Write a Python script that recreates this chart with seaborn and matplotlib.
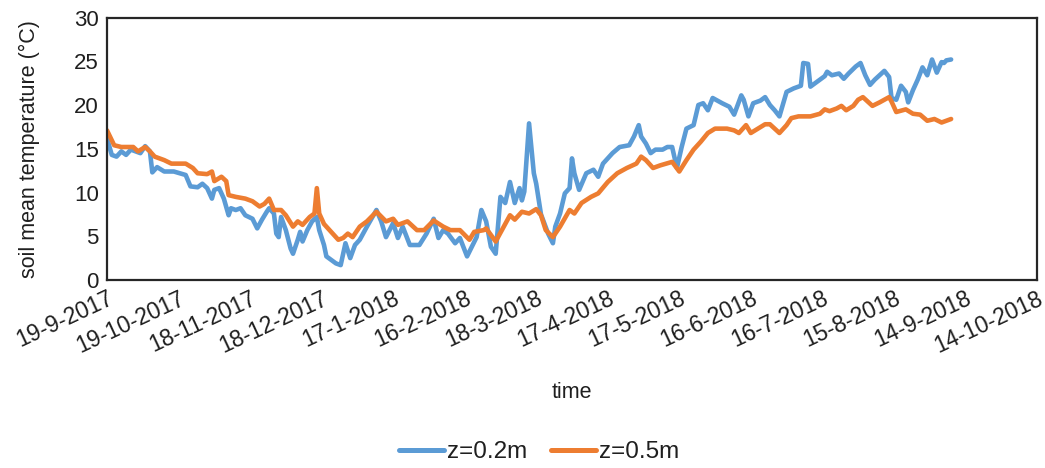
import matplotlib
matplotlib.use("Agg")
import matplotlib.pyplot as plt
import pandas as pd
import seaborn as sns

# Daily soil temperature readings, day offsets counted from the first day of logging
start_date = pd.Timestamp("2017-09-19")

days_02 = [0, 2, 4, 6, 8, 10, 12, 14, 16, 18, 19, 21, 24, 28, 33, 35, 38, 40, 42, 44,
           45, 47, 49, 51, 52, 54, 56, 58, 61, 63, 65, 67, 68, 70, 71, 72, 73, 75, 77, 78,
           80, 81, 82, 84, 86, 88, 89, 91, 92, 94, 96, 98, 100, 102, 104, 106, 109, 113, 115, 117,
           120, 122, 124, 127, 131, 134, 137, 139, 141, 143, 146, 148, 151, 153, 155, 157, 159, 161, 163, 165,
           167, 169, 171, 173, 174, 175, 177, 179, 180, 182, 185, 187, 188, 190, 192, 194, 195, 196, 198, 201,
           204, 206, 208, 210, 212, 215, 219, 221, 223, 224, 226, 228, 230, 233, 235, 237, 239, 241, 243, 246,
           248, 250, 252, 254, 258, 261, 263, 266, 267, 269, 271, 274, 276, 278, 280, 282, 285, 288, 291, 292,
           294, 295, 298, 301, 302, 304, 307, 309, 311, 314, 316, 318, 320, 322, 324, 326, 328, 329, 331, 333,
           335, 336, 338, 340, 342, 344, 346, 348, 350, 351, 352, 354]
temp_02 = [16.2, 14.3, 14.1, 14.7, 14.3, 14.9, 14.7, 14.5, 15.3, 14.7, 12.3, 12.9, 12.4, 12.4, 12.0, 10.7, 10.6, 11.0, 10.5, 9.3,
           10.3, 10.5, 9.3, 7.4, 8.2, 8.0, 8.2, 7.4, 7.0, 5.9, 6.9, 7.8, 8.2, 7.6, 5.3, 4.9, 7.2, 5.7, 3.6, 3.0,
           4.6, 5.5, 4.4, 5.7, 6.7, 7.2, 5.7, 4.0, 2.7, 2.3, 1.9, 1.7, 4.2, 2.5, 4.0, 4.6, 6.1, 8.0, 6.7, 4.9,
           6.5, 4.8, 6.1, 4.0, 4.0, 5.3, 7.0, 4.8, 5.7, 5.3, 4.2, 4.8, 2.7, 3.8, 4.9, 8.0, 6.7, 3.8, 3.0, 9.5,
           8.8, 11.2, 8.8, 10.5, 9.1, 10.1, 17.9, 12.2, 11.0, 7.5, 5.3, 4.2, 6.1, 7.6, 9.9, 10.5, 13.9, 12.2, 10.3, 12.2,
           12.6, 11.8, 13.3, 13.9, 14.5, 15.2, 15.4, 16.4, 17.7, 16.4, 15.6, 14.5, 14.9, 14.9, 15.2, 15.2, 12.8, 15.2, 17.3, 17.7,
           20.0, 20.2, 19.4, 20.8, 20.2, 19.8, 18.9, 21.1, 20.6, 18.7, 20.2, 20.5, 20.9, 20.0, 19.4, 18.7, 21.5, 21.9, 22.2, 24.8,
           24.7, 22.1, 22.7, 23.3, 23.8, 23.4, 23.6, 23.0, 23.6, 24.4, 24.8, 23.4, 22.3, 22.9, 23.4, 23.9, 23.2, 20.8, 20.6, 22.2,
           21.5, 20.3, 21.7, 22.9, 24.3, 23.4, 25.2, 23.7, 24.9, 24.8, 25.1, 25.2]

days_05 = [0, 3, 6, 9, 11, 13, 16, 18, 20, 24, 27, 33, 36, 38, 42, 44, 45, 48, 50, 51,
           54, 58, 61, 64, 66, 68, 70, 73, 75, 78, 80, 82, 85, 87, 88, 89, 91, 94, 97, 99,
           101, 103, 106, 109, 113, 117, 120, 122, 126, 130, 133, 137, 141, 144, 148, 152, 154, 158, 159, 163,
           166, 169, 171, 174, 177, 180, 182, 184, 187, 190, 194, 196, 199, 203, 206, 210, 214, 218, 222, 224,
           226, 229, 232, 237, 240, 243, 246, 249, 252, 255, 260, 263, 265, 268, 270, 273, 276, 278, 280, 282,
           285, 287, 290, 295, 299, 301, 303, 306, 308, 310, 313, 315, 317, 321, 324, 328, 329, 331, 335, 338,
           341, 344, 347, 350, 354]
temp_05 = [17.1, 15.4, 15.2, 15.2, 15.2, 14.7, 15.2, 14.7, 14.1, 13.7, 13.3, 13.3, 12.8, 12.2, 12.1, 12.4, 11.3, 11.8, 11.3, 9.7,
           9.5, 9.3, 9.0, 8.4, 8.7, 9.3, 8.0, 8.0, 7.4, 6.1, 6.7, 6.3, 7.2, 7.6, 10.5, 7.6, 6.4, 5.5, 4.6, 4.8,
           5.3, 4.9, 6.1, 6.7, 7.8, 6.7, 7.0, 6.3, 6.7, 5.7, 5.7, 6.8, 6.1, 5.7, 5.7, 4.6, 5.5, 5.7, 5.9, 4.4,
           5.9, 7.4, 6.9, 7.8, 7.6, 8.1, 7.4, 5.7, 4.9, 6.1, 8.0, 7.6, 8.8, 9.5, 9.9, 11.2, 12.2, 12.8, 13.3, 14.1,
           13.7, 12.8, 13.1, 13.5, 12.4, 13.7, 14.9, 15.8, 16.8, 17.3, 17.3, 17.1, 16.8, 17.7, 16.8, 17.3, 17.8, 17.8, 17.3, 16.8,
           17.7, 18.5, 18.7, 18.7, 19.0, 19.5, 19.3, 19.6, 19.9, 19.4, 19.9, 20.6, 20.9, 19.9, 20.3, 20.9, 20.4, 19.2, 19.5, 19.0,
           18.9, 18.2, 18.4, 18.0, 18.4]

depth_labels = ["z=0.2m", "z=0.5m"]
depth_colors = {"z=0.2m": "#5B9BD5", "z=0.5m": "#ED7D31"}

y_ticks = [0, 5, 10, 15, 20, 25, 30]
tick_dates = pd.date_range(start_date, periods=14, freq="30D")
tick_labels = [f"{d.day}-{d.month}-{d.year}" for d in tick_dates]

frames = []
for label, days, temps in [(depth_labels[0], days_02, temp_02), (depth_labels[1], days_05, temp_05)]:
    frames.append(pd.DataFrame({
        "date": start_date + pd.to_timedelta(days, unit="D"),
        "temperature": temps,
        "depth": label,
    }))
df = pd.concat(frames, ignore_index=True)

sns.set_theme(style="white")
plt.rcParams["font.family"] = ["Liberation Sans", "DejaVu Sans"]
text_color = "#1f1f1f"

fig = plt.figure(figsize=(10.45, 4.68), dpi=100)
ax = fig.add_axes([0.1024, 0.4017, 0.8899, 0.5609])

sns.lineplot(data=df, x="date", y="temperature", hue="depth", hue_order=depth_labels,
             palette=depth_colors, linewidth=3.3, legend=False, ax=ax,
             solid_joinstyle="round", solid_capstyle="round")

ax.set_xlim(tick_dates[0], tick_dates[-1])
ax.set_ylim(0, 30)
ax.set_yticks(y_ticks)
ax.set_yticklabels([str(v) for v in y_ticks], fontsize=16, color=text_color)
ax.set_xticks(tick_dates)
ax.set_xticklabels(tick_labels, rotation=25, ha="right", va="top",
                   rotation_mode="anchor", fontsize=16.5, color=text_color)

ax.tick_params(axis="both", direction="in", length=6, width=1.2, colors="#404040")
ax.tick_params(axis="y", pad=6, labelcolor=text_color)
ax.tick_params(axis="x", pad=5, labelcolor=text_color)

for side in ["left", "right", "top", "bottom"]:
    ax.spines[side].set_visible(True)
    ax.spines[side].set_color("#262626")
    ax.spines[side].set_linewidth(1.6)

ax.set_xlabel("time", fontsize=15.5, color=text_color)
ax.xaxis.label.set_va("center")
ax.xaxis.set_label_coords(0.5, -0.43)
ax.set_ylabel("soil mean temperature (°C)", fontsize=15.5, color=text_color)
ax.yaxis.label.set_va("center")
ax.yaxis.set_label_coords(-0.083, 0.5)

fig.legend(ax.lines[:2], depth_labels, loc="center", bbox_to_anchor=(0.516, 0.034),
           ncol=2, frameon=False, fontsize=17.5, handlelength=1.85, handletextpad=0.1,
           columnspacing=1.0, labelcolor=text_color)
for handle in fig.legends[0].get_lines():
    handle.set_linewidth(3.6)

fig.savefig("out.png", dpi=100, facecolor="white")
